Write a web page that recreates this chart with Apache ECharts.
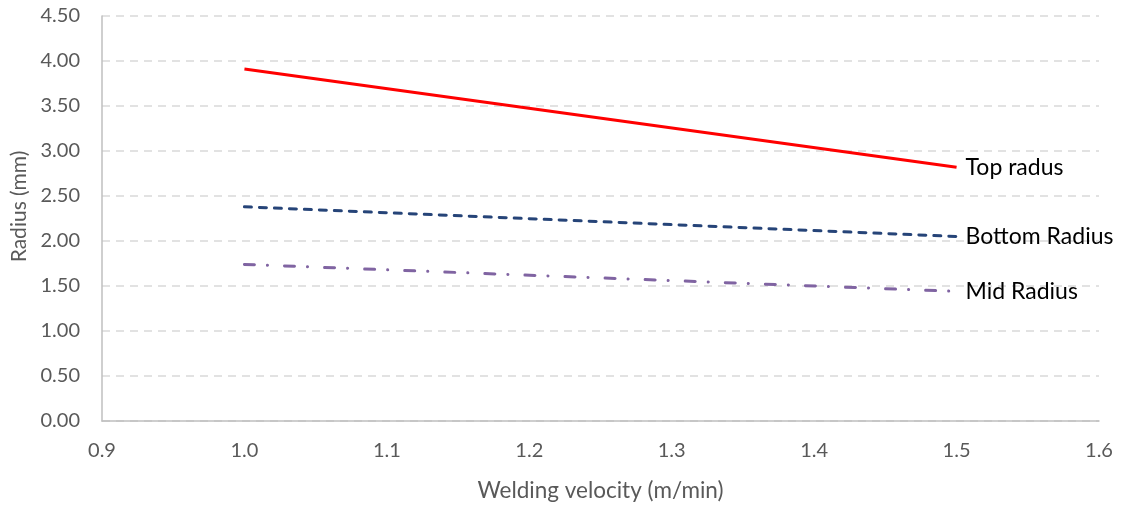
<!DOCTYPE html>
<html>
<head>
<meta charset="utf-8">
<script src="https://cdn.jsdelivr.net/npm/echarts@6/dist/echarts.min.js"></script>
<style>
html,body{margin:0;padding:0;background:#fff;}
#c{width:1121px;height:507px;}
</style>
</head>
<body>
<div id="c"></div>
<script>
const velocity = [1.0, 1.5];
const topRadius = [3.91, 2.82];
const bottomRadius = [2.38, 2.05];
const midRadius = [1.74, 1.44];
const seriesNames = ['Top radus', 'Bottom Radius', 'Mid Radius'];

const FONT = 'Lato, "Open Sans", sans-serif';
const chart = echarts.init(document.getElementById('c'));
function pairs(ys){ return velocity.map((x,i)=>[x, ys[i]]); }
const endLabel = {show:true, formatter:'{a}', color:'#000', fontSize:23, fontFamily:FONT, distance:9};
chart.setOption({
  animation:false,
  grid:{left:102, right:22, top:16, bottom:85},
  xAxis:{
    type:'value', min:0.9, max:1.6, interval:0.1,
    name:'Welding velocity (m/min)', nameLocation:'middle', nameGap:58,
    nameTextStyle:{color:'#595959', fontSize:22.5, fontFamily:FONT},
    axisLine:{show:true, lineStyle:{color:'#bfbfbf', width:1.5}},
    axisTick:{show:false},
    splitLine:{show:false},
    axisLabel:{color:'#595959', fontSize:20, fontFamily:FONT, margin:20, formatter:v=>v.toFixed(1)}
  },
  yAxis:{
    type:'value', min:0, max:4.5, interval:0.5,
    name:'Radius (mm)', nameLocation:'middle', nameGap:70,
    nameTextStyle:{color:'#595959', fontSize:21, fontFamily:FONT, padding:[0,0,0,24]},
    axisLine:{show:true, lineStyle:{color:'#bfbfbf', width:1.5}},
    axisTick:{show:false},
    splitLine:{show:true, lineStyle:{color:'#d9d9d9', width:1.5, type:[8,6]}},
    axisLabel:{color:'#595959', fontSize:20, fontFamily:FONT, margin:22, formatter:v=>v.toFixed(2)}
  },
  series:[
    {name:seriesNames[0], type:'line', data:pairs(topRadius), showSymbol:false, symbol:'none',
     lineStyle:{color:'#ff0000', width:3}, endLabel:endLabel},
    {name:seriesNames[1], type:'line', data:pairs(bottomRadius), showSymbol:false, symbol:'none',
     lineStyle:{color:'#264478', width:3, type:[7,8], cap:'round'}, endLabel:endLabel},
    {name:seriesNames[2], type:'line', data:pairs(midRadius), showSymbol:false, symbol:'none',
     lineStyle:{color:'#8064a2', width:3, type:[10,13,0.1,17], cap:'round'}, endLabel:endLabel}
  ]
});
</script>
</body>
</html>
